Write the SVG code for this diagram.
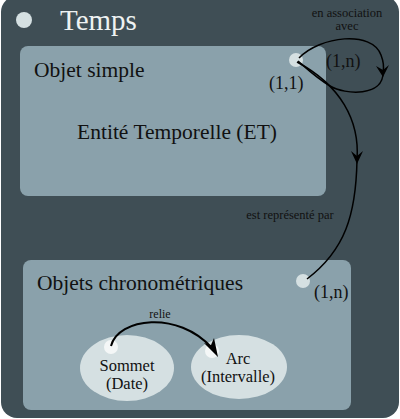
<svg xmlns="http://www.w3.org/2000/svg" width="400" height="419" viewBox="0 0 400 419">
<defs>
<style>
.bg{fill:#3f4e55}
.panel{fill:#8aa1ab}
.dot{fill:#d5e0e2}
.wdot{fill:#f4f7f7}
.ell{fill:#d5e0e2}
text{font-family:"Liberation Serif","DejaVu Serif",serif;fill:#111}
.big{font-size:21.5px}
.med{font-size:18px}
.el{font-size:16.5px}
.small{font-size:12.5px}
.conn{fill:none;stroke:#000;stroke-width:1.5}
</style>
</defs>
<rect class="bg" x="1" y="-4" width="398" height="422" rx="16"/>
<g id="temps">
<circle class="dot" cx="24" cy="20" r="8"/>
<text x="60" y="30" style="font-size:29px;fill:#eef2f2">Temps</text>
</g>
<g id="objet-simple">
<rect class="panel" x="20" y="46" width="306" height="150" rx="8"/>
<text class="big" x="34" y="77">Objet simple</text>
<text class="big" x="177" y="139" text-anchor="middle">Entité Temporelle (ET)</text>
<circle class="dot" cx="296" cy="60" r="7"/>
<text class="med" x="269" y="89">(1,1)</text>
</g>
<g id="objets-chrono">
<rect class="panel" x="23" y="260" width="328" height="150" rx="8"/>
<text class="big" x="37" y="290">Objets chronométriques</text>
<circle class="dot" cx="303" cy="281" r="7"/>
<text class="med" x="314" y="298">(1,n)</text>
</g>
<g id="sommet">
<ellipse class="ell" cx="127" cy="368" rx="47" ry="33"/>
<circle class="wdot" cx="111" cy="347" r="7"/>
<text class="el" x="127" y="371" text-anchor="middle">Sommet</text>
<text class="el" x="127" y="389" text-anchor="middle">(Date)</text>
</g>
<g id="arc">
<ellipse class="ell" cx="239" cy="367" rx="48" ry="32"/>
<circle class="wdot" cx="212" cy="351" r="7"/>
<text class="el" x="238" y="364" text-anchor="middle">Arc</text>
<text class="el" x="238" y="382" text-anchor="middle">(Intervalle)</text>
</g>
<g id="connectors">
<path class="conn" d="M299,58 C320,36 372,30 381,55 C384,63 384,68 383,72"/>
<path d="M376,66 L383,77 L389,65 L383,70 Z" fill="#000"/>
<path class="conn" d="M383,72 C384,97 345,95 330,86 C315,77 305,67 298,61"/>
<path class="conn" d="M297,62 C340,85 360,120 357,160 C356,215 345,250 307,279"/>
<path d="M351,151 L357,164 L363,151 L357,156 Z" fill="#000"/>
<text class="small" x="347" y="17" text-anchor="middle">en association</text>
<text class="small" x="347" y="30" text-anchor="middle">avec</text>
<text class="med" x="326" y="67">(1,n)</text>
<text class="small" x="290" y="219" text-anchor="middle">est représenté par</text>
<path d="M111,346 C118,318 178,310 212,348" fill="none" stroke="#000" stroke-width="2"/>
<path d="M204,343 L218,357 L214,338 L211,345 Z" fill="#000"/>
<text x="160" y="318" text-anchor="middle" style="font-size:12px">relie</text>
</g>
</svg>
